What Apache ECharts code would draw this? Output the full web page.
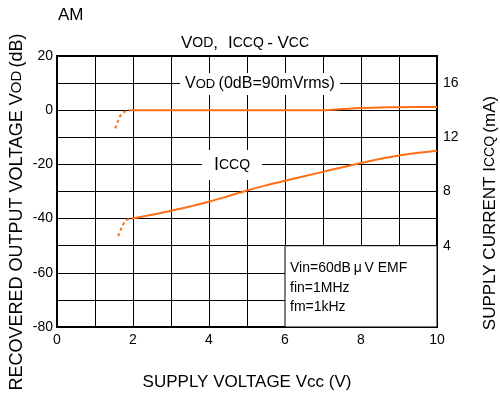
<!DOCTYPE html>
<html>
<head>
<meta charset="utf-8">
<script src="https://cdn.jsdelivr.net/npm/echarts@6/dist/echarts.min.js"></script>
<style>
  html, body { margin: 0; padding: 0; background: #fff; }
  #chart { width: 500px; height: 396px; }
</style>
</head>
<body>
<div id="chart"></div>
<script>
// Supply voltage (V) and recovered output voltage VOD (dB)
const vodDottedVcc = [1.53, 1.6, 1.66, 1.75, 1.85, 1.95];
const vodDottedDb  = [-6.7, -4.2, -2.2, -0.8, -0.2, 0];
const vodVcc = [1.95, 3, 4, 5, 6, 7, 7.5, 8, 8.5, 9, 10];
const vodDb  = [0, 0, 0, 0, 0, 0, 0.4, 0.8, 1.0, 1.1, 1.2];

// Supply voltage (V) and supply current ICCQ (mA)
const iccDottedVcc = [1.61, 1.68, 1.75, 1.83, 1.97];
const iccDottedMa  = [4.7, 5.2, 5.6, 5.9, 6.0];
const iccVcc = [1.97, 2.5, 3, 3.5, 4, 4.5, 5, 5.5, 6, 7, 8, 9, 10];
const iccMa  = [6.0, 6.28, 6.58, 6.9, 7.25, 7.65, 8.08, 8.45, 8.8, 9.45, 10.1, 10.65, 11.0];

// Tick labels
const xTickLabels = [0, 2, 4, 6, 8, 10];
const leftTickLabels = [20, 0, -20, -40, -60, -80];
const rightTickLabels = [4, 8, 12, 16];

const FONT = '"Liberation Sans", Arial, sans-serif';
const ORANGE = '#ff6f17';

const pairs = (xs, ys) => xs.map((x, i) => [x, ys[i]]);

const chart = echarts.init(document.getElementById('chart'), null, { renderer: 'canvas' });

const rich = (bs, ss) => ({
  b: { fontFamily: FONT, fontSize: bs, fill: '#000', color: '#000' },
  s: { fontFamily: FONT, fontSize: ss, fill: '#000', color: '#000' }
});

chart.setOption({
  animation: false,
  backgroundColor: '#fff',
  grid: { left: 57, right: 63, top: 56, bottom: 69, show: true, borderColor: '#000', borderWidth: 2, backgroundColor: 'transparent' },
  xAxis: {
    type: 'value', min: 0, max: 10, interval: 1,
    axisLine: { show: false }, axisTick: { show: false },
    splitLine: { show: true, lineStyle: { color: '#000', width: 1 } },
    axisLabel: {
      margin: 6, color: '#000', fontFamily: FONT, fontSize: 14,
      formatter: v => xTickLabels.includes(v) ? String(v) : ''
    },
    name: 'SUPPLY VOLTAGE Vcc (V)', nameLocation: 'middle', nameGap: 47,
    nameTextStyle: { color: '#000', fontFamily: FONT, fontSize: 17 }
  },
  yAxis: [
    {
      type: 'value', min: -80, max: 20, interval: 10,
      axisLine: { show: false }, axisTick: { show: false },
      splitLine: { show: true, lineStyle: { color: '#000', width: 1 } },
      axisLabel: {
        margin: 4, color: '#000', fontFamily: FONT, fontSize: 14,
        formatter: v => leftTickLabels.includes(v) ? String(v) : ''
      }
    },
    {
      type: 'value', min: -2, max: 18, interval: 2, position: 'right',
      axisLine: { show: false }, axisTick: { show: false }, splitLine: { show: false },
      axisLabel: {
        margin: 6, color: '#000', fontFamily: FONT, fontSize: 14,
        formatter: v => rightTickLabels.includes(v) ? String(v) : ''
      }
    }
  ],
  series: [
    {
      name: 'conditions', type: 'line', data: [], silent: true,
      markArea: {
        silent: true,
        itemStyle: { color: '#fff', borderColor: '#000', borderWidth: 1 },
        data: [[{ coord: [6, -50] }, { coord: [10, -80] }]]
      }
    },
    {
      name: 'VOD', type: 'line', yAxisIndex: 0, data: pairs(vodVcc, vodDb),
      showSymbol: false, smooth: 0.3, lineStyle: { color: ORANGE, width: 2 }, z: 5
    },
    {
      name: 'VOD low', type: 'line', yAxisIndex: 0, data: pairs(vodDottedVcc, vodDottedDb),
      showSymbol: false, smooth: 0.4, lineStyle: { color: ORANGE, width: 2, type: [3, 3] }, z: 5
    },
    {
      name: 'ICCQ', type: 'line', yAxisIndex: 1, data: pairs(iccVcc, iccMa),
      showSymbol: false, smooth: 0.4, lineStyle: { color: ORANGE, width: 2 }, z: 5
    },
    {
      name: 'ICCQ low', type: 'line', yAxisIndex: 1, data: pairs(iccDottedVcc, iccDottedMa),
      showSymbol: false, smooth: 0.4, lineStyle: { color: ORANGE, width: 2, type: [3, 3] }, z: 5
    }
  ],
  graphic: [
    { type: 'text', left: 58, top: 7, style: { text: 'AM', fontFamily: FONT, fontSize: 17, fill: '#000' } },
    {
      type: 'text', x: 245, y: 43,
      style: {
        text: '{b|V}{s|OD}{b|,}   {b|I}{s|CCQ} {b|- V}{s|CC}', align: 'center', verticalAlign: 'middle',
        rich: rich(17, 14)
      }
    },
    {
      type: 'text', x: 260, y: 84, z: 10,
      style: {
        text: '{b|V}{s|OD} {b|(0dB=90mVrms)}', align: 'center', verticalAlign: 'middle',
        backgroundColor: '#fff', padding: [3, 5, 3, 5],
        rich: rich(16, 13)
      }
    },
    {
      type: 'text', x: 232, y: 165, z: 10,
      style: {
        text: '{b|I}{s|CCQ}', align: 'center', verticalAlign: 'middle',
        backgroundColor: '#fff', padding: [6, 12, 6, 12],
        rich: rich(18, 14)
      }
    },
    { type: 'text', x: 290, y: 268, z: 10, style: { text: 'Vin=60dB\u2009μ\u2009V EMF', fontFamily: FONT, fontSize: 14, fill: '#000', verticalAlign: 'middle' } },
    { type: 'text', x: 290, y: 288, z: 10, style: { text: 'fin=1MHz', fontFamily: FONT, fontSize: 14, fill: '#000', verticalAlign: 'middle' } },
    { type: 'text', x: 290, y: 307, z: 10, style: { text: 'fm=1kHz', fontFamily: FONT, fontSize: 14, fill: '#000', verticalAlign: 'middle' } },
    {
      type: 'text', x: 17, y: 212, rotation: Math.PI / 2,
      style: {
        text: '{b|RECOVERED OUTPUT VOLTAGE V}{s|OD} {b|(dB)}', align: 'center', verticalAlign: 'middle',
        rich: rich(18, 15)
      }
    },
    {
      type: 'text', x: 490, y: 213, rotation: Math.PI / 2,
      style: {
        text: '{b|SUPPLY CURRENT I}{s|CCQ} {b|(mA)}', align: 'center', verticalAlign: 'middle',
        rich: rich(17, 14)
      }
    }
  ]
});
</script>
</body>
</html>
